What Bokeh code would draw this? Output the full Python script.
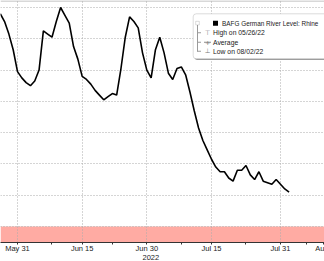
import pandas as pd
from bokeh.plotting import figure
from bokeh.models import (FixedTicker, DatetimeTickFormatter, BoxAnnotation, Label, Span,
                          Range1d, Title)
from bokeh.embed import file_html
from bokeh.resources import INLINE

# ---- data ----
start_date = "2022-05-27"
levels = [176, 171, 163, 153, 139, 135, 132, 130, 133, 140,
          165, 163, 161, 171, 180, 175, 170, 155, 147, 136,
          134, 131, 127, 124, 121, 123, 125, 124, 141, 161,
          174, 171, 167, 151, 140, 135, 153, 161, 151, 138,
          134, 141, 142, 137, 126, 114, 103, 95, 89, 83,
          78, 75, 75, 71, 69, 76, 76, 79, 73, 70,
          75, 69, 68, 67, 70, 67, 64, 62]
dates = pd.date_range(start_date, periods=len(levels), freq="D")

major_dates = ["2022-05-31", "2022-06-15", "2022-06-30", "2022-07-15", "2022-07-31"]
minor_dates = ["2022-06-08", "2022-06-22", "2022-07-08", "2022-07-23", "2022-08-06"]
edge_tick_date = "2022-08-09 22:00"   # month label cut off at the right edge
edge_tick_label = "Au"
grid_levels = [40, 60, 80, 100, 120, 140, 160, 180]
low_threshold = 40
series_name = "BAFG German River Level: Rhine"
legend_rows = ["High on 05/26/22", "Average", "Low on 08/02/22"]
year_label = "2022"

W, H = 324, 261
FRAME_H = 242
px_per_day = 4.311
x0 = pd.Timestamp("2022-05-31") - pd.Timedelta(days=17 / px_per_day)
x1 = x0 + pd.Timedelta(days=W / px_per_day)
units_per_px = 20 / 31.3
y_lo = 40 - 16 * units_per_px
y_hi = 180 + 7 * units_per_px
FONT = "Liberation Sans"

def ms(t):
    return int(pd.Timestamp(t).value // 10**6)

p = figure(width=W, height=H, x_axis_type="datetime", output_backend="svg",
           toolbar_location=None, min_border=0, min_border_bottom=H - FRAME_H,
           x_range=Range1d(ms(x0), ms(x1)), y_range=Range1d(y_lo, y_hi))
p.outline_line_color = None
p.background_fill_color = "white"
p.border_fill_color = "white"
p.yaxis.visible = False

# threshold band
p.add_layout(BoxAnnotation(top=low_threshold, fill_color="#FFABA3", fill_alpha=1,
                           line_color=None, level="image"))

# axis
p.xaxis.ticker = FixedTicker(ticks=[ms(d) for d in major_dates] + [ms(edge_tick_date)],
                             minor_ticks=[ms(d) for d in minor_dates])
p.xaxis.formatter = DatetimeTickFormatter(days="%b %d", months="%b %d")
p.xaxis.major_label_overrides = {ms(edge_tick_date): edge_tick_label}
p.xaxis.axis_line_color = "#333333"
p.xaxis.major_tick_line_color = "#333333"
p.xaxis.minor_tick_line_color = "#333333"
p.xaxis.major_tick_in = 0
p.xaxis.major_tick_out = 2
p.xaxis.minor_tick_in = 0
p.xaxis.minor_tick_out = 2
p.xaxis.major_label_standoff = -1
p.xaxis.major_label_text_font = FONT
p.xaxis.major_label_text_font_size = "7.5px"
p.xaxis.major_label_text_color = "#222222"

p.add_layout(Title(text=year_label, align="left", offset=142, standoff=-4,
                   vertical_align="middle",
                   text_font=FONT, text_font_size="7.5px", text_font_style="normal",
                   text_color="#222222"), "below")

# grids
p.xgrid.ticker = FixedTicker(ticks=[ms(d) for d in major_dates])
p.xgrid.grid_line_color = "#AAAAAA"
p.xgrid.grid_line_dash = "1 2"
p.ygrid.ticker = FixedTicker(ticks=grid_levels)
p.ygrid.grid_line_color = "#AAAAAA"
p.ygrid.grid_line_dash = "1 2"

p.add_layout(Span(location=y_hi - 0.5 * units_per_px, dimension="width",
                  line_color="#B0B0B0", line_width=1))

# series
p.line(dates, levels, line_color="black", line_width=1.6)

# legend (manual, screen units; y measured upward from frame bottom)
def sy(ypx):
    return FRAME_H - ypx

def sbox(l, r, t, b, fill, line=None, radius=0):
    p.add_layout(BoxAnnotation(left=l, right=r, top=sy(t), bottom=sy(b),
                               left_units="screen", right_units="screen",
                               top_units="screen", bottom_units="screen",
                               fill_color=fill, fill_alpha=1, line_color=line,
                               line_width=1, border_radius=radius, level="overlay"))

sbox(194, 330, 14.3, 59.5, "#A0A0A0", None, 3)
sbox(192.7, 330, 13.3, 58.3, "white", "#8C8C8C", 3)

row_y = [22.7, 32.3, 41.7, 50.7]
# tree
sbox(196.5, 197.5, 24.5, 51.2, "#9A9A9A")
for yy in row_y[1:]:
    sbox(197, 200.5, yy - 0.5, yy + 0.5, "#9A9A9A")
sbox(195.2, 198.8, 20.8, 24.4, "white", "#8C8C8C")
# black square
sbox(212.5, 217.5, 20.3, 25.3, "black")
# average line
sbox(203.5, 210.5, row_y[2] - 0.5, row_y[2] + 0.5, "#8C8C8C")

icons = ["\u22a4", "+", "\u22a5"]
for yy, ic in zip(row_y[1:], icons):
    p.add_layout(Label(x=207.2, y=sy(yy), x_units="screen", y_units="screen", text=ic,
                       text_align="center", text_baseline="middle",
                       text_font="DejaVu Sans", text_font_size="6.5px",
                       text_color="#777777", level="overlay"))

p.add_layout(Label(x=221.5, y=sy(row_y[0]), x_units="screen", y_units="screen",
                   text=series_name, text_align="left", text_baseline="middle",
                   text_font=FONT, text_font_size="6.4px",
                   text_color="#1A1A1A", level="overlay"))
for yy, t in zip(row_y[1:], legend_rows):
    p.add_layout(Label(x=212.5, y=sy(yy), x_units="screen", y_units="screen",
                       text=t, text_align="left", text_baseline="middle",
                       text_font=FONT, text_font_size="6.8px",
                       text_color="#1A1A1A", level="overlay"))

open("out.html", "w").write(file_html(p, INLINE))
